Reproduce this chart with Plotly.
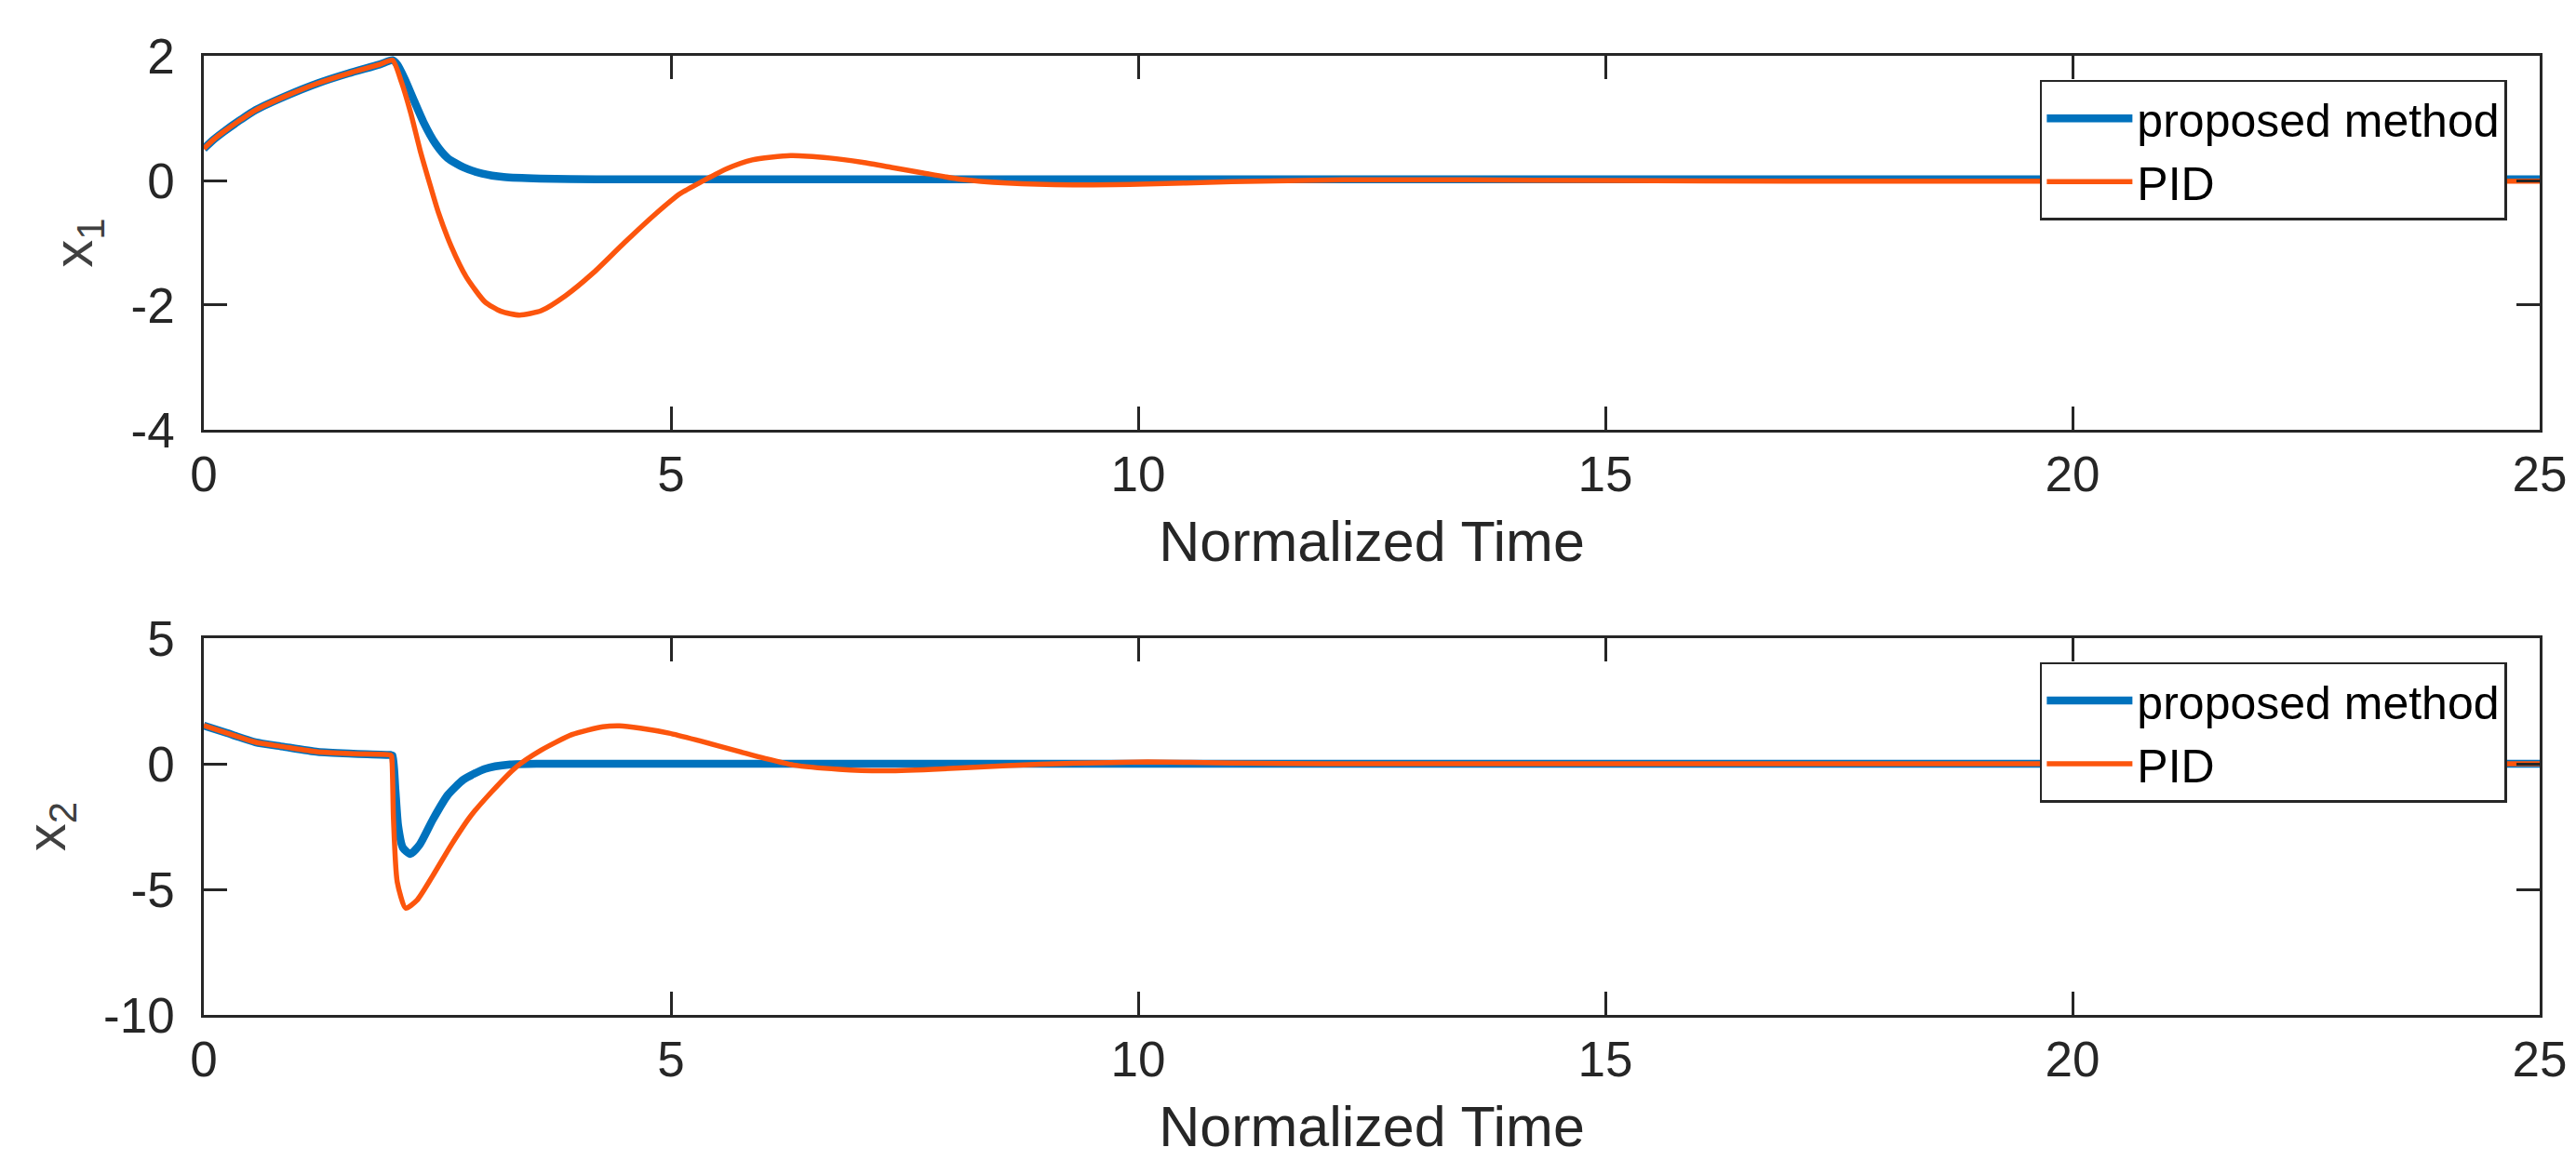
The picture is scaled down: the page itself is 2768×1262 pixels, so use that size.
import plotly.graph_objects as go

# ---------------- data ----------------
t_x1_prop = [0, 0.1, 0.22, 0.4, 0.555, 0.886, 1.22, 1.55, 1.88, 2.02, 2.07, 2.15, 2.25, 2.35,
             2.48, 2.61, 2.78, 2.98, 3.21, 3.6, 4.2, 6, 10, 15, 20, 25]
x1_prop = [0.51, 0.65, 0.79, 0.98, 1.13, 1.36, 1.56, 1.72, 1.86, 1.93, 1.86, 1.63, 1.28, 0.94,
           0.59, 0.36, 0.21, 0.11, 0.055, 0.03, 0.02, 0.02, 0.02, 0.02, 0.02, 0.02]

t_x1_pid = [0, 0.1, 0.22, 0.4, 0.555, 0.886, 1.22, 1.55, 1.88, 2.02, 2.115, 2.214, 2.314, 2.41,
            2.51, 2.646, 2.81, 3.01, 3.18, 3.38, 3.61, 3.87, 4.17, 4.5, 4.84, 5.1, 5.34,
            5.6, 5.87, 6.28, 6.7, 7.05, 7.36, 7.7, 8.1, 8.6, 9.3, 10.0, 11.0, 12.2, 13.5,
            15, 17, 20, 25]
x1_pid = [0.51, 0.65, 0.79, 0.98, 1.13, 1.36, 1.56, 1.72, 1.86, 1.93, 1.58, 1.085, 0.49, -0.01,
          -0.51, -1.05, -1.55, -1.95, -2.10, -2.16, -2.09, -1.85, -1.48, -1.00, -0.53, -0.21, -0.01,
          0.19, 0.33, 0.40, 0.36, 0.29, 0.21, 0.12, 0.02, -0.04, -0.07, -0.06, -0.02, 0.01, 0.01,
          0.0, -0.01, -0.01, -0.01]

t_x2_prop = [0, 0.25, 0.55, 0.85, 1.22, 1.6, 2.0, 2.02, 2.05, 2.08, 2.13, 2.21, 2.31, 2.45,
             2.61, 2.78, 3.01, 3.28, 3.6, 5, 10, 15, 20, 25]
x2_prop = [1.52, 1.22, 0.86, 0.68, 0.47, 0.40, 0.35, 0.33, -1.0, -2.48, -3.34, -3.59, -3.22, -2.23,
           -1.25, -0.63, -0.2, -0.03, 0.0, 0.0, 0.0, 0.0, 0.0, 0.0]

t_x2_pid = [0, 0.25, 0.55, 0.85, 1.22, 1.6, 2.0, 2.01, 2.03, 2.07, 2.16, 2.28, 2.45, 2.65,
            2.85, 3.08, 3.34, 3.61, 3.94, 4.27, 4.45, 4.67, 4.98, 5.3, 5.74, 6.0, 6.31, 6.8,
            7.26, 7.8, 8.6, 9.3, 10.1, 11.0, 12.0, 15, 20, 25]
x2_pid = [1.52, 1.22, 0.86, 0.68, 0.47, 0.40, 0.35, 0.30, -2.2, -4.7, -5.75, -5.44, -4.46, -3.22,
          -2.11, -1.12, -0.14, 0.54, 1.16, 1.47, 1.51, 1.42, 1.22, 0.92, 0.48, 0.22, -0.05, -0.22,
          -0.28, -0.22, -0.07, 0.02, 0.07, 0.03, 0.0, 0.0, 0.0, 0.0]

x_ticks = [0, 5, 10, 15, 20, 25]
y1_ticks = [-4, -2, 0, 2]
y2_ticks = [-10, -5, 0, 5]
names = ["proposed method", "PID"]

# ---------------- style ----------------
BLUE = "#0072BD"
ORANGE = "#FC550D"
FONT = "Liberation Sans, Arial, sans-serif"
DARK = "#262626"
SMOOTH = 0.6

def lab(v):
    return [str(x) for x in v]  # plain hyphen-minus as in the reference

fig = go.Figure()
fig.add_trace(go.Scatter(x=t_x1_prop, y=x1_prop, mode="lines", name=names[0],
                         line=dict(color=BLUE, width=8.5, shape="spline", smoothing=SMOOTH),
                         xaxis="x", yaxis="y", legend="legend"))
fig.add_trace(go.Scatter(x=t_x1_pid, y=x1_pid, mode="lines", name=names[1],
                         line=dict(color=ORANGE, width=5.5, shape="spline", smoothing=SMOOTH),
                         xaxis="x", yaxis="y", legend="legend"))
fig.add_trace(go.Scatter(x=t_x2_prop, y=x2_prop, mode="lines", name=names[0],
                         line=dict(color=BLUE, width=8.5, shape="spline", smoothing=SMOOTH),
                         xaxis="x2", yaxis="y2", legend="legend2"))
fig.add_trace(go.Scatter(x=t_x2_pid, y=x2_pid, mode="lines", name=names[1],
                         line=dict(color=ORANGE, width=5.5, shape="spline", smoothing=SMOOTH),
                         xaxis="x2", yaxis="y2", legend="legend2"))

axis_common = dict(
    showline=True, linecolor=DARK, linewidth=2.5, mirror="ticks",
    ticks="inside", ticklen=25, tickwidth=2.5, tickcolor=DARK,
    showgrid=False, zeroline=False,
    tickfont=dict(family=FONT, size=53, color=DARK),
)

xaxis_common = dict(axis_common, range=[0, 25], tickmode="array", tickvals=x_ticks,
                    ticktext=lab(x_ticks), ticklabelstandoff=0,
                    title=dict(text="Normalized Time", font=dict(family=FONT, size=61, color=DARK),
                               standoff=22))

legend_common = dict(
    xref="paper", yref="paper", x=0.986, xanchor="right", yanchor="top",
    bgcolor="white", bordercolor=DARK, borderwidth=2.5,
    font=dict(family=FONT, size=50, color="black"),
    itemwidth=92, tracegroupgap=0,
)

fig.update_layout(
    width=2768, height=1262,
    margin=dict(l=211, r=47, t=52, b=179, pad=0),
    paper_bgcolor="white", plot_bgcolor="white",
    showlegend=True,
    xaxis=dict(xaxis_common, domain=[0, 1], anchor="y"),
    yaxis=dict(axis_common, domain=[0.6101, 1.0], anchor="x", range=[-4, 2],
               tickmode="array", tickvals=y1_ticks, ticktext=lab(y1_ticks), ticklabelstandoff=18,
               title=dict(text="x<sub>1</sub>", font=dict(family=FONT, size=60, color="#404040"),
                          standoff=22)),
    xaxis2=dict(xaxis_common, domain=[0, 1], anchor="y2"),
    yaxis2=dict(axis_common, domain=[0.0, 0.3928], anchor="x2", range=[-10, 5],
                tickmode="array", tickvals=y2_ticks, ticktext=lab(y2_ticks), ticklabelstandoff=18,
                title=dict(text="x<sub>2</sub>", font=dict(family=FONT, size=60, color="#404040"),
                           standoff=22)),
    legend=dict(legend_common, y=0.975),
    legend2=dict(legend_common, y=0.368),
)

fig.write_html("out.html")
